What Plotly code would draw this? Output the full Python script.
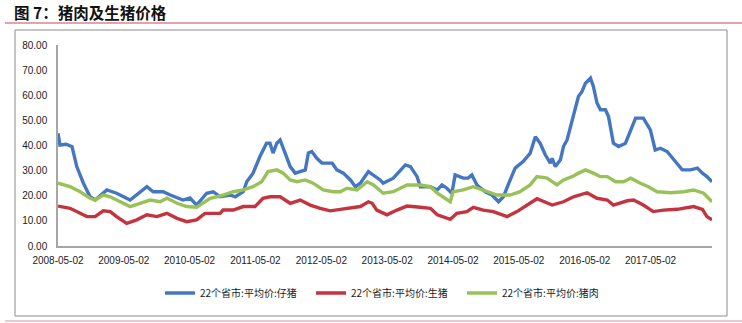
import plotly.graph_objects as go

# 22个省市:平均价:仔猪 (piglet)
piglet_dates = ["2008-05-02","2008-05-13","2008-06-16","2008-07-19","2008-08-14","2008-09-20","2008-10-27","2008-11-24",
    "2009-01-28","2009-03-23","2009-06-06","2009-09-07","2009-10-12","2009-12-06","2010-01-15","2010-03-26","2010-05-04",
    "2010-06-10","2010-08-05","2010-09-10","2010-10-18","2010-12-13","2011-01-10","2011-02-24","2011-03-15","2011-04-19",
    "2011-05-27","2011-07-03","2011-07-22","2011-08-08","2011-08-29","2011-09-16","2011-10-14","2011-11-11","2011-12-09",
    "2012-01-06","2012-02-03","2012-02-20","2012-03-10","2012-04-07","2012-05-05","2012-07-01","2012-07-27","2012-09-01",
    "2012-10-10","2012-11-07","2012-12-04","2013-01-18","2013-02-15","2013-03-24","2013-04-10","2013-06-05","2013-08-11",
    "2013-09-08","2013-10-15","2013-11-02","2013-12-28","2014-02-04","2014-03-02","2014-03-29","2014-04-26","2014-05-14",
    "2014-06-28","2014-07-25","2014-08-15","2014-09-12","2014-10-28","2014-12-04","2015-01-10","2015-02-06","2015-03-04",
    "2015-04-12","2015-05-26","2015-07-04","2015-08-02","2015-08-29","2015-09-26","2015-10-24","2015-11-03","2015-11-21",
    "2015-12-19","2016-01-05","2016-01-25","2016-03-01","2016-03-28","2016-04-17","2016-05-06","2016-06-03","2016-06-19",
    "2016-07-09","2016-07-28","2016-08-25","2016-09-11","2016-10-08","2016-11-06","2016-12-14","2017-01-12","2017-02-08",
    "2017-03-23","2017-05-01","2017-05-28","2017-06-26","2017-08-02","2017-09-07","2017-10-25","2017-12-10","2018-01-17",
    "2018-02-14","2018-03-11","2018-04-08"]
piglet = [44.9,40.2,40.5,39.5,31.6,25.0,19.6,18.3,
    22.3,21.0,18.3,23.6,21.6,21.6,20.3,18.3,19.1,
    16.3,21.0,21.6,19.6,20.3,19.6,21.6,25.6,29.0,
    35.6,40.9,40.9,37.0,40.9,42.2,37.0,31.6,29.0,
    29.6,30.3,37.0,37.6,34.9,33.0,33.0,30.3,29.0,
    26.3,23.6,25.0,29.6,28.3,26.3,25.0,27.0,32.3,
    31.6,27.6,23.6,23.6,22.3,24.3,23.0,21.0,28.3,
    27.0,27.0,28.3,24.3,21.6,20.3,17.6,19.6,24.3,
    31.0,33.6,36.9,43.5,40.9,36.3,33.0,34.9,31.6,
    34.3,39.6,42.2,52.9,59.5,61.5,64.8,66.8,63.5,
    56.9,54.2,54.2,51.5,40.9,39.6,40.9,46.2,50.9,
    50.9,46.2,38.2,38.9,37.6,34.3,30.3,30.3,31.0,
    29.0,27.6,25.6]

# 22个省市:平均价:生猪 (live hog)
hog_dates = ["2008-05-02","2008-07-08","2008-09-02","2008-10-09","2008-11-24","2009-01-08","2009-02-16","2009-03-23",
    "2009-05-18","2009-07-13","2009-09-07","2009-11-02","2009-12-27","2010-02-21","2010-04-16","2010-06-10","2010-07-26",
    "2010-09-10","2010-10-18","2010-11-04","2010-12-30","2011-02-24","2011-04-30","2011-06-13","2011-07-22","2011-09-16",
    "2011-11-11","2012-01-06","2012-03-01","2012-04-26","2012-06-20","2012-08-15","2012-10-10","2012-12-04","2013-01-18",
    "2013-02-08","2013-03-05","2013-05-01","2013-06-25","2013-08-20","2013-11-02","2013-12-28","2014-02-04","2014-04-17",
    "2014-05-24","2014-07-18","2014-08-23","2014-10-17","2014-12-12","2015-02-27","2015-04-22","2015-06-17","2015-08-11",
    "2015-11-03","2016-01-05","2016-03-01","2016-05-15","2016-07-09","2016-09-04","2016-10-08","2016-12-24","2017-01-28",
    "2017-03-23","2017-05-17","2017-07-12","2017-09-27","2017-12-27","2018-02-14","2018-03-11","2018-04-08"]
hog = [15.9,15.0,13.0,11.7,11.7,14.0,13.7,11.7,
    9.0,10.4,12.4,11.7,13.0,11.0,9.7,10.4,13.0,
    13.0,13.0,14.3,14.3,15.7,15.7,19.0,19.6,19.6,
    17.0,18.3,16.3,15.0,14.0,14.6,15.0,15.7,17.6,
    17.0,14.3,12.4,14.3,15.9,15.4,15.0,12.4,10.6,
    13.0,13.7,15.4,14.3,13.7,11.7,13.7,16.3,18.8,
    16.3,17.6,19.6,21.2,19.0,18.3,16.3,18.0,18.3,
    16.3,13.7,14.3,14.6,15.7,14.6,11.7,10.4]

# 22个省市:平均价:猪肉 (pork)
pork_dates = ["2008-05-02","2008-07-08","2008-09-02","2008-10-27","2008-11-24","2009-01-08","2009-02-16","2009-04-11",
    "2009-06-06","2009-07-31","2009-09-25","2009-11-20","2009-12-27","2010-02-21","2010-04-16","2010-06-10","2010-07-15",
    "2010-08-24","2010-10-18","2010-11-04","2010-12-30","2011-02-24","2011-04-19","2011-06-06","2011-07-11","2011-08-29",
    "2011-10-03","2011-11-11","2011-12-18","2012-02-03","2012-03-17","2012-05-12","2012-07-06","2012-08-15","2012-09-21",
    "2012-11-16","2013-01-11","2013-02-15","2013-03-24","2013-04-10","2013-06-05","2013-08-20","2013-11-02","2013-12-28",
    "2014-02-04","2014-04-17","2014-05-03","2014-06-28","2014-08-23","2014-10-17","2015-01-02","2015-03-15","2015-05-09",
    "2015-07-04","2015-08-11","2015-10-06","2015-11-30","2016-01-05","2016-02-22","2016-03-28","2016-05-06","2016-06-19",
    "2016-07-28","2016-09-04","2016-10-20","2016-12-03","2017-01-12","2017-03-07","2017-04-20","2017-06-08","2017-08-21",
    "2017-11-02","2017-12-27","2018-02-21","2018-04-08"]
pork = [25.0,23.6,21.6,19.0,18.3,20.3,19.6,17.6,
    15.7,17.0,18.3,17.6,19.0,17.0,15.7,15.4,17.0,
    19.0,19.9,20.3,21.6,22.3,23.6,25.6,29.6,30.3,
    29.0,26.3,25.6,26.3,25.0,22.3,21.6,21.6,23.0,
    22.3,25.6,24.3,22.3,21.0,21.6,24.3,24.3,23.6,
    21.0,17.6,21.6,22.3,23.6,22.3,20.3,20.3,21.6,
    24.3,27.6,27.0,24.3,26.3,27.6,29.0,30.3,29.0,
    27.6,27.6,25.6,25.6,27.0,25.0,23.6,21.6,21.2,
    21.6,22.3,21.0,17.6]

tick_labels = ["2008-05-02","2009-05-02","2010-05-02","2011-05-02","2012-05-02",
               "2013-05-02","2014-05-02","2015-05-02","2016-05-02","2017-05-02"]

names = ["22个省市:平均价:仔猪", "22个省市:平均价:生猪", "22个省市:平均价:猪肉"]
colors = ["#4477BF", "#C4343F", "#98C258"]

CJK = "Noto Sans CJK SC"

fig = go.Figure()
for d, v, n, c in [(piglet_dates, piglet, names[0], colors[0]),
                   (hog_dates, hog, names[1], colors[1]),
                   (pork_dates, pork, names[2], colors[2])]:
    fig.add_trace(go.Scatter(x=d, y=v, name=n, mode="lines",
                             line=dict(color=c, width=3.4), line_shape="linear"))

W, H = 742, 323
L, R, T, B = 58, 30, 45, 77
pw, ph = W - L - R, H - T - B

def px(x):
    return (x - L) / pw

def py(y):
    return (H - B - y) / ph

fig.update_layout(
    width=W, height=H,
    margin=dict(l=L, r=R, t=T, b=B),
    paper_bgcolor="white", plot_bgcolor="white",
    font=dict(family=CJK, size=10, color="#222222"),
    showlegend=True,
    legend=dict(orientation="h", x=px(165) - 5 / pw, xanchor="left", y=py(293), yanchor="middle",
                font=dict(family=CJK, size=10, color="#222222"),
                itemwidth=30, entrywidth=106, entrywidthmode="pixels",
                bgcolor="rgba(0,0,0,0)"),
    xaxis=dict(type="date", range=["2008-05-02", "2018-04-08"],
               tickvals=tick_labels, ticktext=tick_labels, tickangle=0,
               showgrid=False, zeroline=False, showline=True, linecolor="#A6A6A6", linewidth=1.5,
               ticks="", tickfont=dict(family="Liberation Sans", size=10, color="#222222"),
               ticklabelstandoff=4),
    yaxis=dict(range=[0, 80], dtick=10, tickformat=".2f",
               showgrid=False, zeroline=False, showline=True, linecolor="#A6A6A6", linewidth=1.5,
               ticks="", tickfont=dict(family="Liberation Sans", size=10, color="#222222"),
               ticklabelstandoff=7),
)

# frame and decorative lines
fig.add_shape(type="rect", xref="paper", yref="paper",
              x0=px(15), x1=px(727), y0=py(316), y1=py(30),
              line=dict(color="#8C8C8C", width=1), fillcolor="rgba(0,0,0,0)", layer="below")
fig.add_shape(type="line", xref="paper", yref="paper",
              x0=px(5), x1=px(742), y0=py(23), y1=py(23),
              line=dict(color="#D9868F", width=1.5))
fig.add_shape(type="line", xref="paper", yref="paper",
              x0=px(5), x1=px(742), y0=py(321), y1=py(321),
              line=dict(color="#E8B8BD", width=1.5))

fig.add_annotation(xref="paper", yref="paper", x=px(12), y=py(12), xanchor="left", yanchor="middle",
                   text="<b>图 7：猪肉及生猪价格</b>", showarrow=False,
                   font=dict(family=CJK, size=15.5, color="#111111"))

fig.write_html("out.html")
